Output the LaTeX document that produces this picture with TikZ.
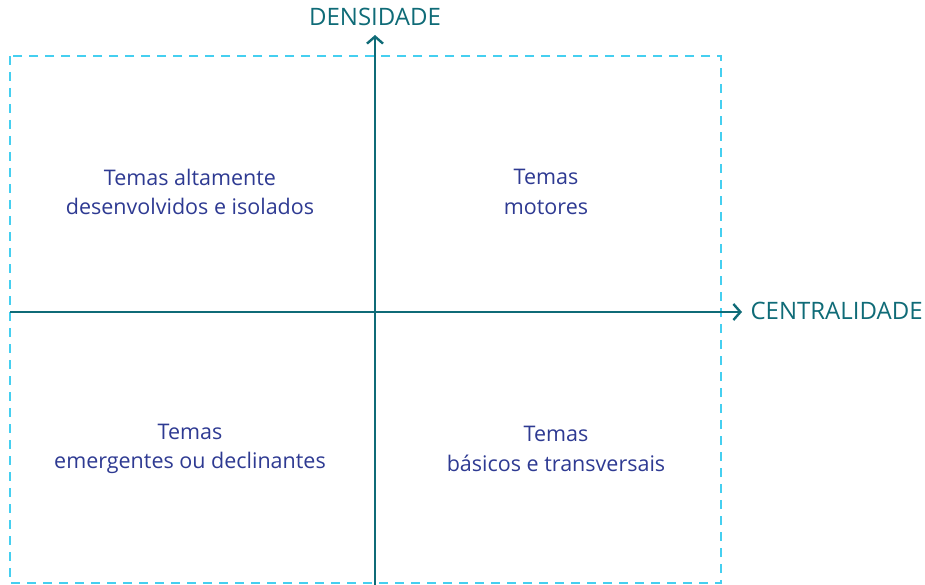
\documentclass[tikz,border=0pt]{standalone}
\usepackage{fontspec}
\setmainfont{Open Sans}
\usetikzlibrary{arrows.meta}
\definecolor{axiscol}{HTML}{0F6B77}
\definecolor{dashcol}{HTML}{45CFF0}
\definecolor{textcol}{HTML}{2E3A92}
\tikzset{
  axis/.style={draw=axiscol, line width=2.7pt, -{Straight Barb[length=7pt,width=16pt,line width=2.4pt]}},
  frame/.style={draw=dashcol, line width=1.2pt, dash pattern=on 9pt off 7pt},
  quad/.style={text=textcol, font=\fontsize{21.5}{29.5}\selectfont, align=center},
  axlabel/.style={text=axiscol, font=\fontsize{24}{26}\selectfont}
}
\begin{document}
\begin{tikzpicture}[x=1pt,y=-1pt]
\useasboundingbox (0,0) rectangle (925,585);
\draw[frame] (10,56) rectangle (721,583);
\coordinate (ybot) at (375,585);
\coordinate (ytop) at (375,35);
\coordinate (xl) at (10,312);
\coordinate (xr) at (742,312);
\draw[axis] (ybot) -- (ytop);
\draw[axis] (xl) -- (xr);
\node[axlabel] (dens) at (375,17) {DENSIDADE};
\node[axlabel, anchor=west] (cent) at (747,311) {CENTRALIDADE};
\node[quad] (q1) at (190,192) {Temas altamente\\desenvolvidos e isolados};
\node[quad] (q2) at (546,192) {Temas\\motores};
\node[quad] (q3) at (190,449) {Temas\\emergentes ou declinantes};
\node[quad] (q4) at (556,449) {Temas\\básicos e transversais};
\end{tikzpicture}
\end{document}
